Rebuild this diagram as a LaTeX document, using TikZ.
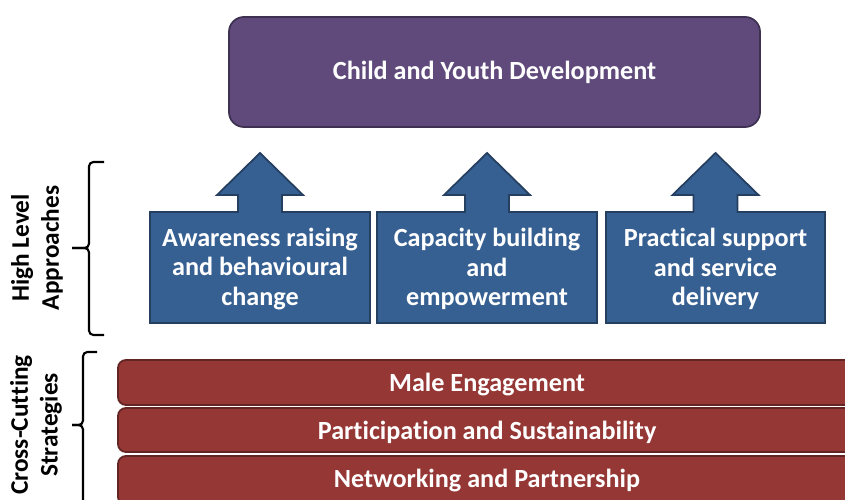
\documentclass[tikz,border=0pt]{standalone}
\usepackage{fontspec}
\setmainfont{Carlito}[Ligatures=NoCommon]

\definecolor{goalfill}{HTML}{604A7B}
\definecolor{goalline}{HTML}{3F3151}
\definecolor{apfill}{HTML}{376092}
\definecolor{apline}{HTML}{243F60}
\definecolor{stfill}{HTML}{953735}
\definecolor{stline}{HTML}{632523}

\begin{document}
\begin{tikzpicture}
[
  scale=1,
  goal/.style={fill=goalfill,draw=goalline,line width=1pt,rounded corners=8.5pt},
  appr/.style={fill=apfill,draw=apline,line width=1pt,line join=miter},
  strat/.style={fill=stfill,draw=stline,line width=1pt,rounded corners=4.5pt},
  txt/.style={text=white,font=\bfseries\fontsize{14.9}{17}\selectfont,align=center},
  side/.style={font=\bfseries\fontsize{14.4}{17}\selectfont,align=center,rotate=90},
  brace/.style={line width=1.2pt,rounded corners=2.5pt}
]

\useasboundingbox (0,0) rectangle (16.9,10);
\clip (0,0) rectangle (16.9,10);

% goal
\draw[goal] (4.58,7.46) rectangle (15.2,9.66)
  node[midway,txt] (goal) {Child and Youth Development};

% approaches (box and arrow in one outline)
\draw[appr] (3.0,5.76) -- (4.76,5.76) -- (4.76,6.1) -- (4.34,6.1) -- (5.2,6.94)
  -- (6.06,6.1) -- (5.64,6.1) -- (5.64,5.76) -- (7.4,5.76) -- (7.4,3.54) -- (3.0,3.54) -- cycle;
\node[txt] (aware) at (5.2,4.62) {Awareness raising\\and behavioural\\change};

\draw[appr] (7.54,5.76) -- (9.3,5.76) -- (9.3,6.1) -- (8.88,6.1) -- (9.74,6.94)
  -- (10.6,6.1) -- (10.18,6.1) -- (10.18,5.76) -- (11.94,5.76) -- (11.94,3.54) -- (7.54,3.54) -- cycle;
\node[txt] (capac) at (9.74,4.62) {Capacity building\\and\\empowerment};

\draw[appr] (12.12,5.76) -- (13.87,5.76) -- (13.87,6.1) -- (13.45,6.1) -- (14.31,6.94)
  -- (15.17,6.1) -- (14.75,6.1) -- (14.75,5.76) -- (16.5,5.76) -- (16.5,3.54) -- (12.12,3.54) -- cycle;
\node[txt] (pract) at (14.31,4.62) {Practical support\\and service\\delivery};

% strategies
\draw[strat] (2.36,1.9) rectangle (17.12,2.8) node[midway,txt,yshift=-0.05cm] (male) {Male Engagement};
\draw[strat] (2.36,0.96) rectangle (17.12,1.84) node[midway,txt,yshift=-0.05cm] (partic) {Participation and Sustainability};
\draw[strat] (2.36,-0.1) rectangle (17.12,0.88) node[midway,txt] (netw) {Networking and Partnership};

% side labels
\draw[brace] (2.08,6.76) -- (1.78,6.76) -- (1.78,5.04) -- (1.44,5.04);
\draw[brace] (1.44,5.04) -- (1.78,5.04) -- (1.78,3.3) -- (2.08,3.3);
\node[side] (high) at (0.74,5.04) {High Level\\Approaches};

\draw[brace] (1.94,2.96) -- (1.66,2.96) -- (1.66,1.5) -- (1.44,1.5);
\draw[brace] (1.44,1.5) -- (1.66,1.5) -- (1.66,-0.3);
\node[side] (cross) at (0.72,1.5) {Cross-Cutting\\Strategies};

\end{tikzpicture}
\end{document}
